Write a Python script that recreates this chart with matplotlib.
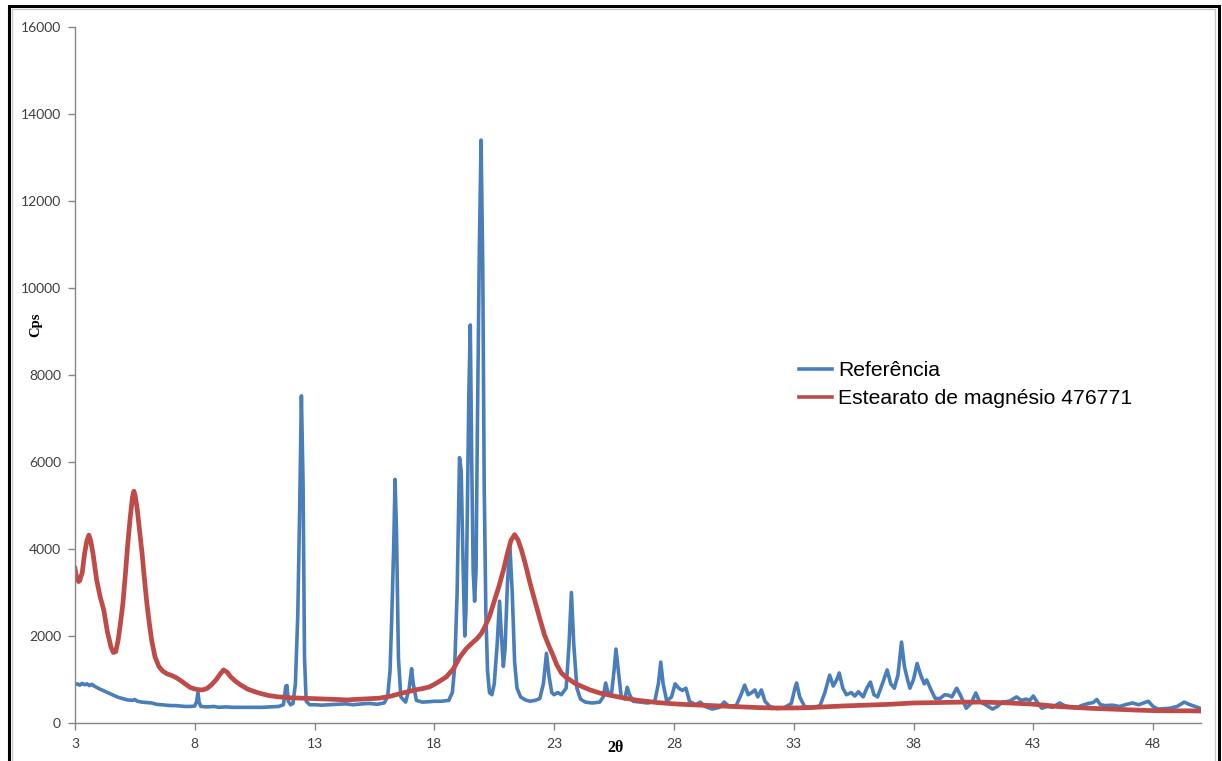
import matplotlib
matplotlib.use("Agg")
import matplotlib.pyplot as plt
from matplotlib.patches import Rectangle

# Diffractogram: 2-theta (degrees) vs counts per second
ref_2theta = [
    3.0, 3.1, 3.2, 3.3, 3.4, 3.5, 3.6, 3.7, 3.8, 3.9, 4.0, 4.2, 4.4, 4.6, 4.8,
    5.0, 5.2, 5.4, 5.5, 5.6, 5.8, 6.0, 6.2, 6.4, 6.6, 6.8, 7.0, 7.2, 7.4, 7.6,
    7.8, 8.0, 8.08, 8.13, 8.18, 8.25, 8.5, 8.8, 9.0, 9.3, 9.6, 10.0, 10.4, 10.8,
    11.2, 11.5, 11.7, 11.8, 11.85, 11.9, 12.0, 12.1, 12.2, 12.3, 12.38, 12.45,
    12.52, 12.58, 12.65, 12.8, 13.0, 13.3, 13.6, 14.0, 14.3, 14.6, 15.0, 15.3,
    15.6, 15.9, 16.05, 16.15, 16.22, 16.3, 16.36, 16.42, 16.5, 16.6, 16.8,
    16.95, 17.05, 17.12, 17.25, 17.5, 17.8, 18.0, 18.3, 18.6, 18.75, 18.85,
    18.95, 19.05, 19.12, 19.2, 19.27, 19.32, 19.38, 19.44, 19.5, 19.56, 19.62,
    19.68, 19.74, 19.8, 19.88, 19.95, 20.02, 20.08, 20.15, 20.22, 20.3, 20.4,
    20.5, 20.62, 20.72, 20.8, 20.88, 20.95, 21.05, 21.15, 21.25, 21.35, 21.45,
    21.6, 21.8, 22.0, 22.2, 22.4, 22.55, 22.68, 22.78, 22.9, 23.0, 23.15, 23.3,
    23.5, 23.62, 23.72, 23.82, 23.95, 24.1, 24.3, 24.6, 24.9, 25.05, 25.15,
    25.25, 25.4, 25.5, 25.58, 25.68, 25.8, 25.95, 26.05, 26.15, 26.3, 26.6,
    26.9, 27.2, 27.35, 27.45, 27.55, 27.7, 27.9, 28.05, 28.2, 28.35, 28.5,
    28.65, 28.9, 29.1, 29.3, 29.6, 29.9, 30.1, 30.3, 30.6, 30.8, 30.95, 31.1,
    31.25, 31.38, 31.5, 31.65, 31.8, 32.0, 32.3, 32.6, 32.9, 33.05, 33.12,
    33.25, 33.45, 33.8, 34.1, 34.3, 34.5, 34.65, 34.8, 34.9, 35.05, 35.2, 35.4,
    35.55, 35.7, 35.9, 36.05, 36.2, 36.35, 36.5, 36.7, 36.9, 37.05, 37.2,
    37.35, 37.5, 37.62, 37.75, 37.85, 38.0, 38.15, 38.3, 38.45, 38.55, 38.7,
    38.9, 39.1, 39.3, 39.45, 39.6, 39.8, 39.95, 40.2, 40.4, 40.6, 40.75, 41.0,
    41.3, 41.5, 41.7, 42.0, 42.3, 42.5, 42.7, 42.85, 43.0, 43.2, 43.35, 43.6,
    43.8, 44.1, 44.3, 44.6, 44.8, 45.0, 45.3, 45.5, 45.65, 45.8, 46.0, 46.3,
    46.6, 46.9, 47.15, 47.4, 47.6, 47.8, 48.0, 48.2, 48.5, 48.7, 49.0, 49.3,
    49.5, 49.7, 49.95,
]
ref_cps = [
    880, 900, 870, 910, 880, 900, 860, 890, 850, 820, 790, 740, 690, 640, 590,
    560, 530, 520, 540, 500, 480, 470, 460, 430, 420, 410, 400, 400, 390, 380,
    380, 390, 500, 700, 480, 380, 370, 380, 360, 370, 360, 360, 360, 360,
    370, 380, 420, 850, 860, 500, 420, 450, 900, 2500, 5000, 7520,
    5500, 1500, 500, 420, 420, 410, 420, 430, 440, 420, 440, 450,
    430, 460, 600, 1200, 2400, 4000, 5600, 4400, 1500, 600, 480,
    800, 1250, 900, 520, 480, 490, 500, 500, 520, 700, 1300,
    3000, 6100, 5800, 3600, 2000, 2600, 5000, 7600, 9150, 6000, 3500,
    2800, 3500, 7000, 11000, 13400, 10500, 5500, 2500, 1200, 700, 650,
    900, 1800, 2800, 2000, 1300, 1700, 3200, 4100, 3000, 1400, 800,
    600, 530, 500, 520, 560, 900, 1600, 1100, 700, 650, 700, 650,
    800, 1800, 3000, 1800, 800, 550, 480, 460, 480, 600, 920,
    700, 700, 1200, 1700, 1200, 600, 550, 820, 650, 500, 480,
    460, 500, 900, 1400, 900, 500, 600, 900, 800, 750, 800,
    500, 420, 480, 380, 320, 360, 480, 380, 400, 650, 870, 650,
    700, 760, 600, 760, 500, 380, 330, 350, 450, 800, 920,
    600, 380, 350, 400, 700, 1100, 850, 1000, 1150, 800, 650, 700,
    620, 720, 600, 800, 940, 650, 600, 900, 1220, 900, 800,
    1100, 1860, 1300, 1000, 800, 1000, 1370, 1100, 900, 990, 800,
    570, 560, 650, 640, 600, 800, 650, 340, 450, 690, 500, 420,
    320, 380, 480, 500, 600, 520, 550, 520, 620, 450, 340, 380,
    360, 460, 400, 360, 340, 400, 450, 470, 540, 420, 400, 410,
    380, 430, 460, 420, 460, 500, 380, 320, 330, 340, 380, 480,
    430, 390, 340,
]

mg_2theta = [
    3.0, 3.05, 3.1, 3.15, 3.2, 3.3, 3.4, 3.5, 3.58, 3.65, 3.75, 3.9, 4.05, 4.2,
    4.35, 4.5, 4.6, 4.7, 4.8, 4.9, 5.0, 5.1, 5.2, 5.3, 5.4, 5.46, 5.52, 5.6,
    5.7, 5.8, 5.9, 6.0, 6.1, 6.2, 6.34, 6.5, 6.65, 6.84, 7.0, 7.2, 7.4, 7.6,
    7.8, 7.95, 8.1, 8.3, 8.5, 8.7, 8.9, 9.05, 9.2, 9.35, 9.5, 9.7, 9.9, 10.2,
    10.5, 10.8, 11.1, 11.5, 12.0, 12.5, 13.0, 13.5, 14.0, 14.35, 14.8, 15.2,
    15.7, 16.2, 16.6, 16.9, 17.2, 17.5, 17.8, 18.1, 18.5, 18.8, 19.07, 19.35,
    19.6, 19.8, 19.95, 20.1, 20.3, 20.5, 20.7, 20.9, 21.05, 21.2, 21.35, 21.5,
    21.65, 21.8, 22.0, 22.2, 22.4, 22.6, 22.8, 22.95, 23.1, 23.3, 23.5, 23.66,
    23.9, 24.2, 24.5, 24.9, 25.3, 25.87, 26.5, 27.3, 28.0, 28.7, 29.4, 30.0,
    30.8, 31.5, 32.1, 32.8, 33.5, 34.3, 35.0, 36.05, 37.0, 38.0, 39.0, 40.0,
    40.8, 41.5, 42.0, 42.8, 43.5, 44.0, 44.7, 45.3, 46.0, 46.7, 47.4, 48.0,
    48.8, 49.5, 50.0,
]
mg_cps = [
    3550, 3400, 3300, 3250, 3280, 3450, 3900, 4200, 4320, 4200, 3900, 3300, 2900, 2600,
    2100, 1750, 1620, 1640, 1900, 2300, 2750, 3400, 4100, 4700, 5200, 5330, 5200, 4900,
    4400, 3900, 3300, 2750, 2300, 1900, 1520, 1300, 1200, 1130, 1100, 1050, 980, 900,
    820, 790, 770, 760, 790, 880, 1000, 1120, 1220, 1170, 1060, 960, 880, 780,
    720, 670, 630, 600, 580, 570, 560, 550, 540, 530, 545, 555,
    570, 620, 680, 720, 760, 790, 830, 920, 1060, 1250, 1520, 1720,
    1850, 1950, 2050, 2200, 2450, 2800, 3150, 3550, 3900, 4200, 4330, 4200,
    3950, 3650, 3200, 2800, 2400, 2020, 1750, 1560, 1350, 1150, 1050, 990,
    900, 830, 760, 690, 640, 580, 520, 470, 440, 420, 405, 390,
    370, 355, 345, 345, 350, 370, 390, 410, 430, 460, 470, 480,
    480, 470, 460, 440, 410, 380, 360, 340, 325, 310, 295, 285,
    280, 280, 275,
]

x_ticks = [3, 8, 13, 18, 23, 28, 33, 38, 43, 48]
y_ticks = [0, 2000, 4000, 6000, 8000, 10000, 12000, 14000, 16000]
series_names = ["Referência", "Estearato de magnésio 476771"]

blue = "#4A7EBB"
red = "#BE4B48"
axis_grey = "#868686"
tick_text = "#404040"

fig = plt.figure(figsize=(12.22, 7.61), dpi=100)
fig.patch.set_facecolor("white")

ax = fig.add_axes([75 / 1222, 38 / 761, (1201 - 75) / 1222, (723 - 27) / 761])
ax.plot(ref_2theta, ref_cps, color=blue, lw=2.6, solid_joinstyle="round",
        label=series_names[0])
ax.plot(mg_2theta, mg_cps, color=red, lw=3.4, solid_joinstyle="round",
        label=series_names[1])

ax.set_xlim(3, 50)
ax.set_ylim(0, 16000)
ax.set_xticks(x_ticks)
ax.set_yticks(y_ticks)
ax.set_xticklabels([str(v) for v in x_ticks])
ax.set_yticklabels([str(v) for v in y_ticks])

for side in ("top", "right"):
    ax.spines[side].set_visible(False)
for side in ("left", "bottom"):
    ax.spines[side].set_color(axis_grey)
    ax.spines[side].set_linewidth(1.0)

ax.tick_params(axis="both", direction="out", length=5, width=1.0,
               color=axis_grey, labelcolor=tick_text, labelsize=10)
ax.tick_params(axis="y", pad=5)
ax.tick_params(axis="x", pad=6)
for lbl in ax.get_xticklabels() + ax.get_yticklabels():
    lbl.set_fontfamily("Lato")

# axis titles
fig.text(615 / 1222, 1 - 748 / 761, "2θ", ha="center", va="center",
         fontsize=11.5, fontweight="bold", family=["Liberation Serif", "DejaVu Serif"])
fig.text(36 / 1222, 1 - 325 / 761, "Cps", ha="center", va="center", rotation=90,
         fontsize=10.5, fontweight="bold", family=["Liberation Serif", "DejaVu Serif"])

leg = ax.legend(loc="upper left", bbox_to_anchor=(799 / 1222, 1 - 361 / 761),
                bbox_transform=fig.transFigure, frameon=False,
                prop={"family": "Liberation Sans", "size": 15.2},
                handlelength=1.55, handletextpad=0.3, labelspacing=0.45,
                borderpad=0, borderaxespad=0)
for h in leg.get_lines():
    h.set_linewidth(2.6)

# outer chart frame
fig.patches.append(Rectangle((9 / 1222, -0.05), (1219 - 9) / 1222, 1.05 - 6 / 761,
                             transform=fig.transFigure, fill=False,
                             edgecolor="black", linewidth=2.2))
fig.patches.append(Rectangle((12 / 1222, -0.05), (1215 - 12) / 1222, 1.05 - 9.5 / 761,
                             transform=fig.transFigure, fill=False,
                             edgecolor="#c8c8c8", linewidth=1.0))

fig.savefig("out.png", dpi=100, facecolor="white")
